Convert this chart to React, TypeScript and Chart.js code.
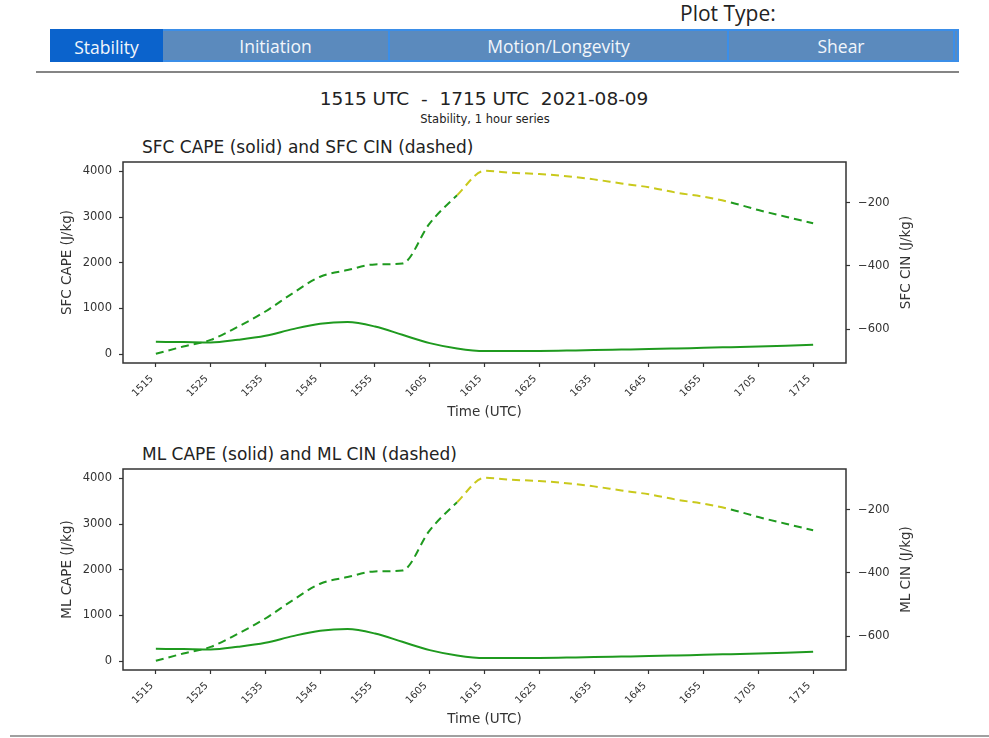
import React, { useEffect, useRef } from 'react';
import { Chart, registerables } from 'chart.js';

Chart.register(...registerables);

// 5-minute observation times (UTC, HHMM)
const times = [
  '1515', '1520', '1525', '1530', '1535', '1540', '1545', '1550', '1555',
  '1600', '1605', '1610', '1615', '1620', '1625', '1630', '1635', '1640',
  '1645', '1650', '1655', '1700', '1705', '1710', '1715',
];

// Labelled x ticks, every 10 minutes
const tickLabels = [
  '1515', '1525', '1535', '1545', '1555', '1605', '1615',
  '1625', '1635', '1645', '1655', '1705', '1715',
];

// Surface-based CAPE (J/kg) and CIN (J/kg)
const sfcCape = [
  269, 262, 254, 313, 400, 547, 663, 700, 604, 422, 240, 123, 66,
  66, 69, 78, 87, 98, 109, 123, 138, 152, 166, 185, 204,
];
const sfcCin = [
  -678, -655, -634, -592, -544, -486, -434, -413, -395, -392, -265, -176, -99,
  -105, -109, -116, -126, -139, -151, -168, -181, -199, -223, -244, -265,
];

// Mixed-layer CAPE (J/kg) and CIN (J/kg)
const mlCape = [
  269, 262, 254, 313, 400, 547, 663, 700, 604, 422, 240, 123, 66,
  66, 69, 78, 87, 98, 109, 123, 138, 152, 166, 185, 204,
];
const mlCin = [
  -678, -655, -634, -592, -544, -486, -434, -413, -395, -392, -265, -176, -99,
  -105, -109, -116, -126, -139, -151, -168, -181, -199, -223, -244, -265,
];

const capeTicks = [0, 1000, 2000, 3000, 4000];
const cinTicks = [-600, -400, -200];

// CIN weaker than this threshold is drawn in yellow
const cinWeak = -200;

const plotTabs = ['Stability', 'Initiation', 'Motion/Longevity', 'Shear'];

const GREEN = '#1f9a1f';
const YELLOW = '#c9c91c';
const INK = '#333333';
const MPL_FONT = '"DejaVu Sans", sans-serif';
const UI_FONT = '"Open Sans", "Noto Sans", sans-serif';

const toMinutes = (hhmm: string) =>
  parseInt(hhmm.slice(0, 2), 10) * 60 + parseInt(hhmm.slice(2), 10);
const t0 = toMinutes(times[0]);
const elapsed = (hhmm: string) => toMinutes(hhmm) - t0;
const span = elapsed(times[times.length - 1]);
const xMargin = span * 0.05;

const signed = (v: number) => (v < 0 ? '\u2212' + Math.abs(v) : String(v));

// Draws the closed box around the plotting area
const frame = {
  id: 'frame',
  afterDraw(chart: any) {
    const { ctx, chartArea } = chart;
    const { left, top, right, bottom } = chartArea;
    ctx.save();
    ctx.strokeStyle = INK;
    ctx.lineWidth = 1.5;
    ctx.strokeRect(left, top, right - left, bottom - top);
    ctx.restore();
  },
};

// Right-hand axis title, read bottom-to-top like the left one
const rightTitle = {
  id: 'rightTitle',
  afterDraw(chart: any, _args: any, opts: any) {
    const scale = chart.scales[opts.scaleId];
    if (!scale || !opts.text) return;
    const { ctx, chartArea } = chart;
    ctx.save();
    ctx.translate(scale.right - opts.offset, (chartArea.top + chartArea.bottom) / 2);
    ctx.rotate(-Math.PI / 2);
    ctx.font = `${opts.size}px ${MPL_FONT}`;
    ctx.fillStyle = INK;
    ctx.textAlign = 'center';
    ctx.textBaseline = 'middle';
    ctx.fillText(opts.text, 0, 0);
    ctx.restore();
  },
};

type PanelProps = {
  top: number;
  title: string;
  cape: number[];
  cin: number[];
  capeLabel: string;
  cinLabel: string;
};

function StabilityPanel({ top, title, cape, cin, capeLabel, cinLabel }: PanelProps) {
  const ref = useRef<HTMLCanvasElement>(null);

  useEffect(() => {
    if (!ref.current) return;
    const tickFont = { family: MPL_FONT, size: 11.5 };
    const axisTitleFont = { family: MPL_FONT, size: 13.5 };
    const tickMarks = { drawOnChartArea: false, drawTicks: true, tickLength: 4, color: INK, tickWidth: 1.2 };
    const chart = new Chart(ref.current, {
      type: 'line',
      data: {
        datasets: [
          {
            label: capeLabel,
            data: times.map((t, i) => ({ x: elapsed(t), y: cape[i] })),
            yAxisID: 'yCape',
            borderColor: GREEN,
            borderWidth: 2,
            pointRadius: 0,
            cubicInterpolationMode: 'monotone',
            fill: false,
          },
          {
            label: cinLabel,
            data: times.map((t, i) => ({ x: elapsed(t), y: cin[i] })),
            yAxisID: 'yCin',
            borderColor: GREEN,
            borderWidth: 2,
            borderDash: [8, 5],
            pointRadius: 0,
            cubicInterpolationMode: 'monotone',
            fill: false,
            segment: {
              borderColor: (c: any) =>
                c.p0.parsed.y > cinWeak && c.p1.parsed.y > cinWeak ? YELLOW : GREEN,
            },
          },
        ],
      },
      options: {
        animation: false,
        responsive: false,
        devicePixelRatio: 1,
        layout: { padding: { left: 55, right: 71, top: 32, bottom: 5 } },
        plugins: {
          legend: { display: false },
          tooltip: { enabled: false },
          title: { display: false },
          rightTitle: { scaleId: 'yCin', text: cinLabel, size: 13.5, offset: 12 },
        },
        scales: {
          x: {
            type: 'linear',
            min: -xMargin,
            max: span + xMargin,
            afterBuildTicks: (s: any) => {
              s.ticks = tickLabels.map((l) => ({ value: elapsed(l) }));
            },
            afterFit: (s: any) => {
              s.height = 62;
            },
            ticks: {
              autoSkip: false,
              minRotation: 45,
              maxRotation: 45,
              padding: 6,
              labelOffset: -4,
              color: INK,
              font: { family: MPL_FONT, size: 10 },
              callback: (v: any) => tickLabels.find((l) => elapsed(l) === v) ?? '',
            },
            grid: tickMarks,
            border: { display: false },
            title: { display: true, text: 'Time (UTC)', color: INK, font: axisTitleFont },
          },
          yCape: {
            type: 'linear',
            position: 'left',
            min: -195,
            max: 4205,
            afterBuildTicks: (s: any) => {
              s.ticks = capeTicks.map((v) => ({ value: v }));
            },
            afterFit: (s: any) => {
              s.width = 68;
            },
            ticks: { padding: 7, color: INK, font: tickFont, callback: (v: any) => signed(v) },
            grid: tickMarks,
            border: { display: false },
            title: { display: true, text: capeLabel, color: INK, font: axisTitleFont },
          },
          yCin: {
            type: 'linear',
            position: 'right',
            min: -707,
            max: -71,
            afterBuildTicks: (s: any) => {
              s.ticks = cinTicks.map((v) => ({ value: v }));
            },
            afterFit: (s: any) => {
              s.width = 72;
            },
            ticks: { padding: 8, color: INK, font: tickFont, callback: (v: any) => signed(v) },
            grid: tickMarks,
            border: { display: false },
            title: { display: false },
          },
        },
      } as any,
      plugins: [frame, rightTitle],
    });
    return () => chart.destroy();
  }, [cape, cin, capeLabel, cinLabel]);

  return (
    <div style={{ position: 'absolute', left: 0, top, width: 989, height: 300 }}>
      <div
        style={{
          position: 'absolute',
          left: 142,
          top: 7,
          fontFamily: MPL_FONT,
          fontSize: 17,
          lineHeight: '20px',
          color: '#222',
          whiteSpace: 'nowrap',
        }}
      >
        {title}
      </div>
      <canvas ref={ref} width={989} height={300} style={{ position: 'absolute', left: 0, top: 0 }} />
    </div>
  );
}

const tabEdges = [50, 163, 388, 727, 953, 959];

export default function App() {
  return (
    <div
      style={{
        position: 'absolute',
        left: 0,
        top: 0,
        width: 989,
        height: 738,
        background: '#ffffff',
        overflow: 'hidden',
      }}
    >
      <div
        style={{
          position: 'absolute',
          left: 680,
          top: -1,
          fontFamily: UI_FONT,
          fontSize: 21,
          lineHeight: '28px',
          color: '#222',
          whiteSpace: 'nowrap',
        }}
      >
        Plot Type:
      </div>

      {tabEdges.slice(0, -1).map((x0, i) => {
        const active = i === 0;
        const label = plotTabs[i] ?? '';
        return (
          <div
            key={i}
            style={{
              position: 'absolute',
              left: x0,
              top: 29,
              width: tabEdges[i + 1] - x0,
              height: 33,
              boxSizing: 'border-box',
              background: active ? '#0b63cc' : '#5b8abd',
              borderTop: active ? 'none' : '2px solid #3b8ee8',
              borderBottom: active ? 'none' : '2px solid #3b8ee8',
              borderLeft: active || i === 1 ? 'none' : '2px solid #3b8ee8',
              display: 'flex',
              alignItems: 'center',
              justifyContent: 'center',
              paddingTop: active ? 2 : 0,
              fontFamily: UI_FONT,
              fontSize: 17.5,
              color: '#f2f6fb',
              whiteSpace: 'nowrap',
              overflow: 'hidden',
            }}
          >
            {label}
          </div>
        );
      })}
      <div style={{ position: 'absolute', left: 957, top: 29, width: 2, height: 33, background: '#3b8ee8' }} />

      <div style={{ position: 'absolute', left: 36, top: 71, width: 923, height: 2, background: '#858585' }} />

      <div
        style={{
          position: 'absolute',
          left: 0,
          top: 88,
          width: 968,
          textAlign: 'center',
          fontFamily: MPL_FONT,
          fontSize: 18.5,
          lineHeight: '22px',
          color: '#222',
          whiteSpace: 'pre',
        }}
      >
        {'1515 UTC  -  1715 UTC  2021-08-09'}
      </div>
      <div
        style={{
          position: 'absolute',
          left: 0,
          top: 112,
          width: 970,
          textAlign: 'center',
          fontFamily: MPL_FONT,
          fontSize: 11.5,
          lineHeight: '14px',
          color: '#222',
          whiteSpace: 'pre',
        }}
      >
        Stability, 1 hour series
      </div>

      <StabilityPanel
        top={130}
        title="SFC CAPE (solid) and SFC CIN (dashed)"
        cape={sfcCape}
        cin={sfcCin}
        capeLabel="SFC CAPE (J/kg)"
        cinLabel="SFC CIN (J/kg)"
      />
      <StabilityPanel
        top={437}
        title="ML CAPE (solid) and ML CIN (dashed)"
        cape={mlCape}
        cin={mlCin}
        capeLabel="ML CAPE (J/kg)"
        cinLabel="ML CIN (J/kg)"
      />

      <div style={{ position: 'absolute', left: 10, top: 735, width: 979, height: 2, background: '#a0a0a0' }} />
    </div>
  );
}
